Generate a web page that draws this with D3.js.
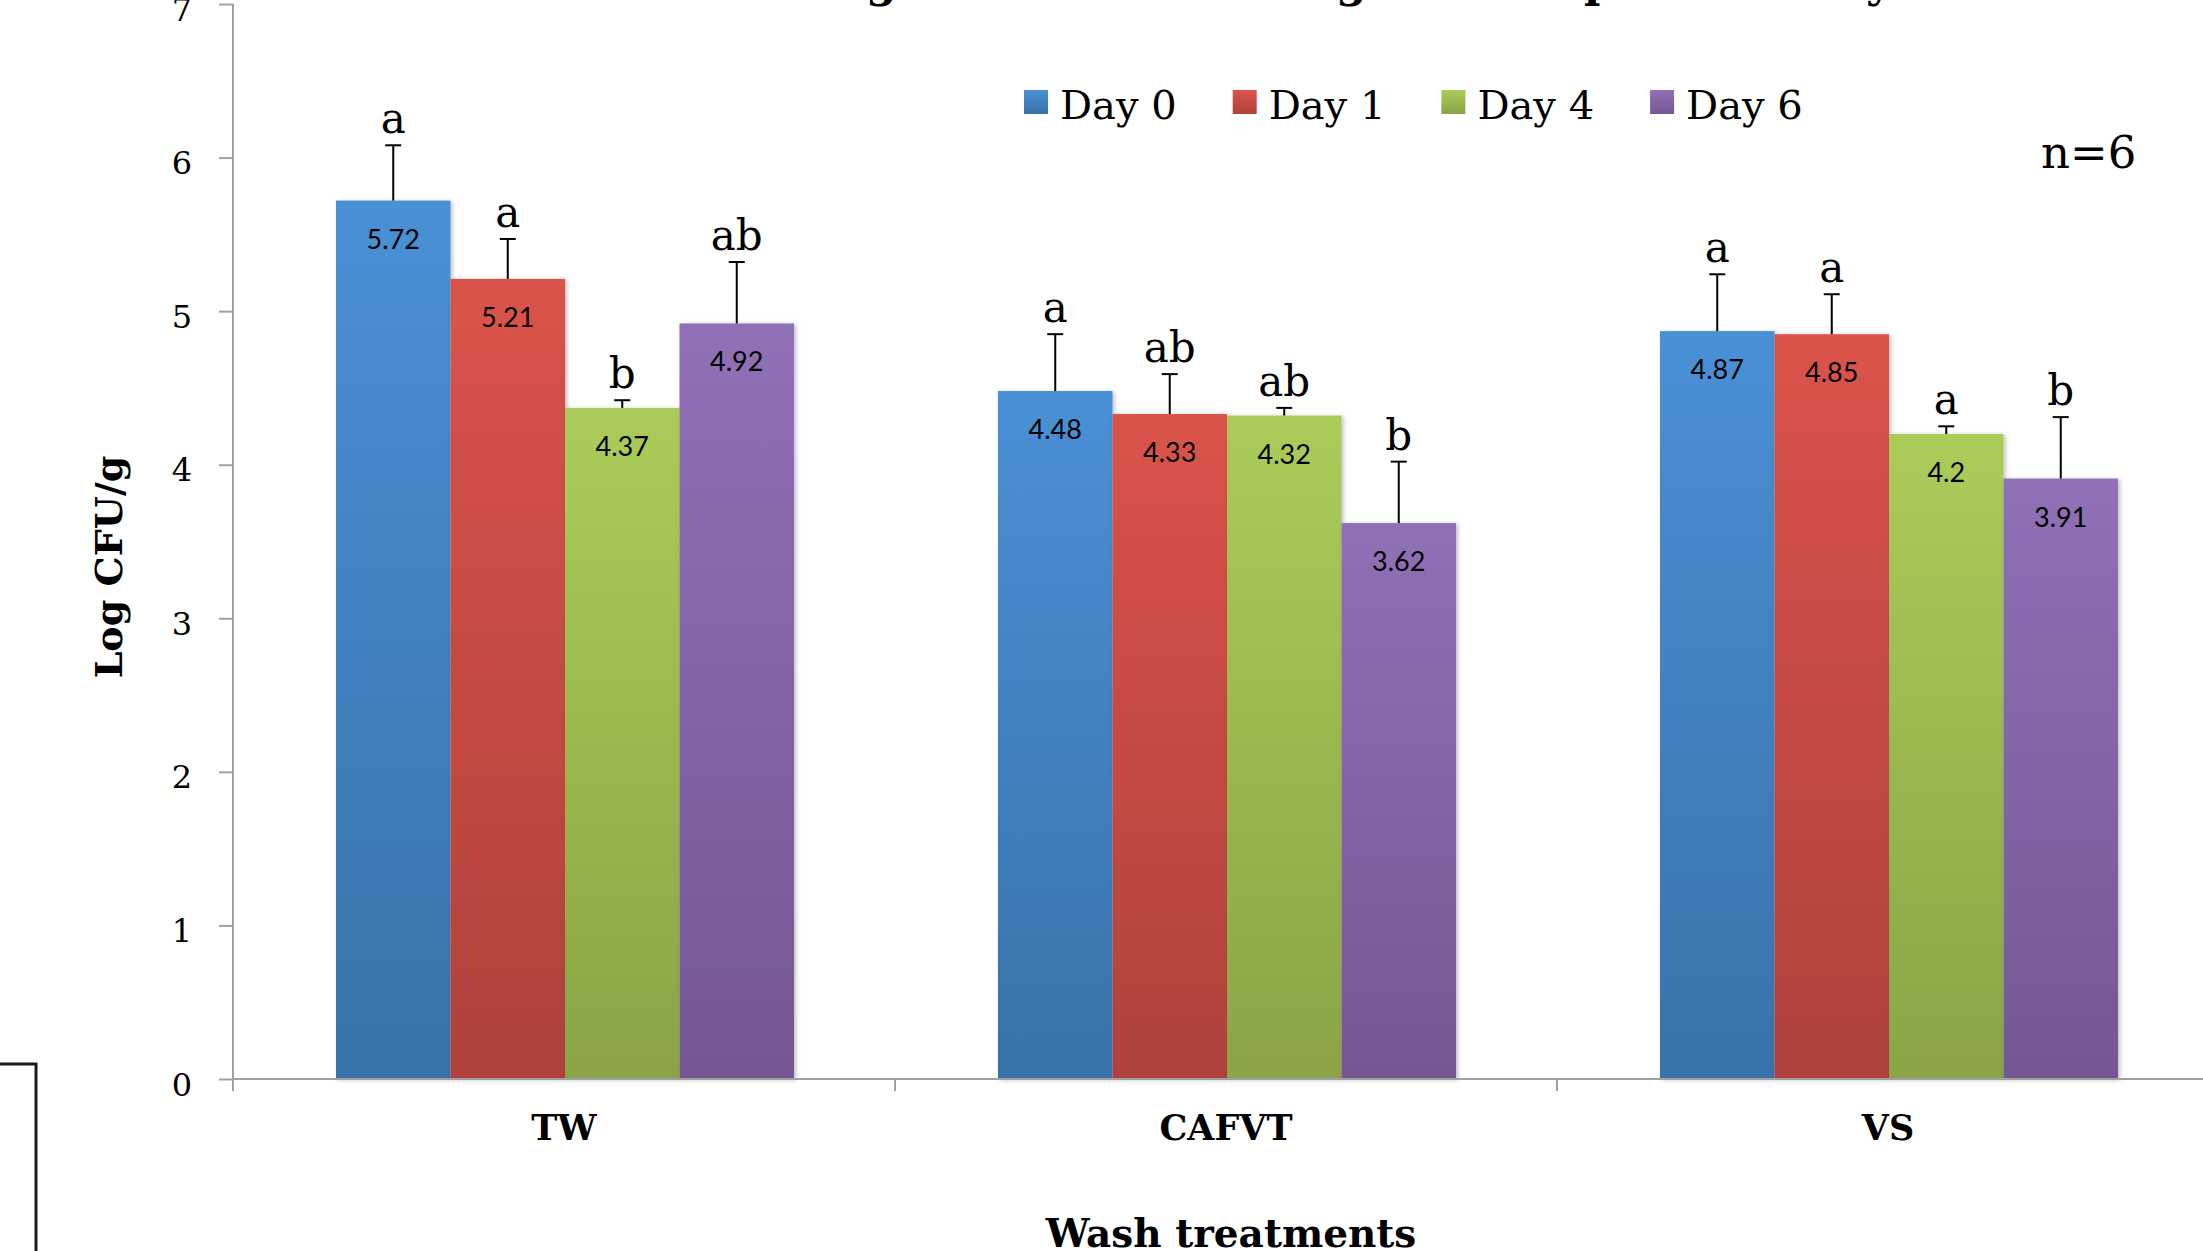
<!DOCTYPE html>
<html>
<head>
<meta charset="utf-8">
<script src="https://cdn.jsdelivr.net/npm/d3@7"></script>
<style>
  html, body { margin: 0; padding: 0; background: #fff; overflow: hidden; }
  svg { display: block; }
</style>
</head>
<body>
<svg id="chart" width="2203" height="1251"></svg>
<script>
// ---- data ----
const categories = ["TW", "CAFVT", "VS"];
const seriesNames = ["Day 0", "Day 1", "Day 4", "Day 6"];
const day0 = [5.72, 4.48, 4.87];
const day1 = [5.21, 4.33, 4.85];
const day4 = [4.37, 4.32, 4.2];
const day6 = [4.92, 3.62, 3.91];
const err0 = [0.36, 0.37, 0.37];
const err1 = [0.26, 0.26, 0.26];
const err4 = [0.05, 0.05, 0.05];
const err6 = [0.40, 0.40, 0.40];
const sig0 = ["a", "a", "a"];
const sig1 = ["a", "ab", "a"];
const sig4 = ["b", "ab", "a"];
const sig6 = ["ab", "b", "b"];
const yTicks = [0, 1, 2, 3, 4, 5, 6, 7];
const titleFragments = ["g", "g", "p", "y"];

const seriesValues = [day0, day1, day4, day6];
const seriesErrors = [err0, err1, err4, err6];
const seriesSig = [sig0, sig1, sig4, sig6];

// ---- styling ----
const topColors = ["#4A90D5", "#DA534B", "#ABCC59", "#9070B6"];
const botColors = ["#3872AA", "#AF413B", "#8AA446", "#745792"];
const serif = "'DejaVu Serif', 'Liberation Serif', serif";
const sans = "Lato, 'Open Sans', sans-serif";
const axisGray = "#A0A0A0";

const svg = d3.select("#chart");
const defs = svg.append("defs");
topColors.forEach((c, i) => {
  const g = defs.append("linearGradient")
    .attr("id", "grad" + i).attr("x1", 0).attr("y1", 0).attr("x2", 0).attr("y2", 1);
  g.append("stop").attr("offset", "0%").attr("stop-color", c);
  g.append("stop").attr("offset", "100%").attr("stop-color", botColors[i]);
});
const f = defs.append("filter").attr("id", "shadow")
  .attr("x", "-10%").attr("y", "-10%").attr("width", "130%").attr("height", "130%");
f.append("feDropShadow").attr("dx", 2).attr("dy", 1).attr("stdDeviation", 2)
  .attr("flood-color", "#000").attr("flood-opacity", 0.25);

// ---- scales ----
const y = d3.scaleLinear().domain([0, 7]).range([1079, 4]);
const x0 = d3.scaleBand().domain(categories).range([233, 2219]).padding(0);
const x1 = d3.scaleBand().domain(seriesNames).range([103, 561]).padding(0);

// ---- partially visible title (cut off at the top edge, as in the source) ----
const fragX = [866, 1336, 1584, 1866];
svg.append("g").selectAll("text").data(titleFragments).join("text")
  .attr("x", (d, i) => fragX[i]).attr("y", -3)
  .attr("font-family", serif).attr("font-weight", "bold").attr("font-size", 44)
  .attr("fill", "#000").text(d => d);

// ---- bars ----
const groups = svg.append("g").selectAll("g").data(categories).join("g")
  .attr("transform", d => `translate(${x0(d)},0)`);

seriesNames.forEach((s, si) => {
  groups.append("rect")
    .attr("x", x1(s))
    .attr("width", x1.bandwidth())
    .attr("y", (d, ci) => y(seriesValues[si][ci]))
    .attr("height", (d, ci) => y(0) - y(seriesValues[si][ci]))
    .attr("fill", `url(#grad${si})`)
    .attr("filter", "url(#shadow)");
});

seriesNames.forEach((s, si) => {
  const cx = x1(s) + x1.bandwidth() / 2;
  // error bars (upper whisker only)
  groups.append("line")
    .attr("x1", cx).attr("x2", cx)
    .attr("y1", (d, ci) => y(seriesValues[si][ci]))
    .attr("y2", (d, ci) => y(seriesValues[si][ci] + seriesErrors[si][ci]))
    .attr("stroke", "#000").attr("stroke-width", 2);
  groups.append("line")
    .attr("x1", cx - 8).attr("x2", cx + 8)
    .attr("y1", (d, ci) => y(seriesValues[si][ci] + seriesErrors[si][ci]))
    .attr("y2", (d, ci) => y(seriesValues[si][ci] + seriesErrors[si][ci]))
    .attr("stroke", "#000").attr("stroke-width", 2);
  // value labels
  groups.append("text")
    .attr("x", cx)
    .attr("y", (d, ci) => y(seriesValues[si][ci]) + 48)
    .attr("text-anchor", "middle")
    .attr("font-family", sans).attr("font-size", 27).attr("fill", "#000")
    .text((d, ci) => seriesValues[si][ci]);
  // significance letters
  groups.append("text")
    .attr("x", cx)
    .attr("y", (d, ci) => y(seriesValues[si][ci] + seriesErrors[si][ci]) - 12)
    .attr("text-anchor", "middle")
    .attr("font-family", serif).attr("font-size", 42).attr("fill", "#000")
    .text((d, ci) => seriesSig[si][ci]);
});

// ---- axes ----
const yAxis = svg.append("g").attr("transform", "translate(233,0)")
  .call(d3.axisLeft(y).tickValues(yTicks).tickSize(14).tickPadding(27).tickFormat(d3.format("d")));
yAxis.select(".domain").remove();
yAxis.selectAll(".tick line").attr("stroke", axisGray).attr("stroke-width", 2);
yAxis.selectAll(".tick text").attr("font-family", serif).attr("font-size", 32)
  .attr("fill", "#000").attr("dy", "0.5em");
svg.append("line").attr("x1", 233).attr("x2", 233).attr("y1", y(7)).attr("y2", y(0) + 12)
  .attr("stroke", axisGray).attr("stroke-width", 2);

svg.append("line").attr("x1", 233).attr("x2", 2219).attr("y1", y(0)).attr("y2", y(0))
  .attr("stroke", axisGray).attr("stroke-width", 2);
const bounds = categories.map(c => x0(c)).concat([x0(categories[categories.length - 1]) + x0.bandwidth()]);
svg.append("g").selectAll("line").data(bounds).join("line")
  .attr("x1", d => d).attr("x2", d => d).attr("y1", y(0)).attr("y2", y(0) + 12)
  .attr("stroke", axisGray).attr("stroke-width", 2);

svg.append("g").selectAll("text").data(categories).join("text")
  .attr("x", d => x0(d) + x0.bandwidth() / 2).attr("y", 1140)
  .attr("text-anchor", "middle")
  .attr("font-family", serif).attr("font-weight", "bold").attr("font-size", 35)
  .attr("fill", "#000").text(d => d);

// axis titles
svg.append("text").attr("transform", "translate(122,567) rotate(-90)")
  .attr("text-anchor", "middle").attr("font-family", serif).attr("font-weight", "bold")
  .attr("font-size", 38).attr("fill", "#000").text("Log CFU/g");
svg.append("text").attr("x", 1231).attr("y", 1247).attr("text-anchor", "middle")
  .attr("font-family", serif).attr("font-weight", "bold").attr("font-size", 39)
  .attr("fill", "#000").text("Wash treatments");

// ---- legend ----
const legend = svg.append("g").selectAll("g").data(seriesNames).join("g")
  .attr("transform", (d, i) => `translate(${1024 + i * 208.7},90)`);
legend.append("rect").attr("width", 24).attr("height", 24)
  .attr("fill", (d, i) => `url(#grad${i})`);
legend.append("text").attr("x", 36).attr("y", 29)
  .attr("font-family", serif).attr("font-size", 40).attr("fill", "#000").text(d => d);

// n=6
svg.append("text").attr("x", 2041).attr("y", 168)
  .attr("font-family", serif).attr("font-size", 45).attr("fill", "#000").text("n=6");

// bottom-left frame fragment
svg.append("path").attr("d", "M0,1064 H36 V1251")
  .attr("fill", "none").attr("stroke", "#1a1a1a").attr("stroke-width", 3);
</script>
</body>
</html>
